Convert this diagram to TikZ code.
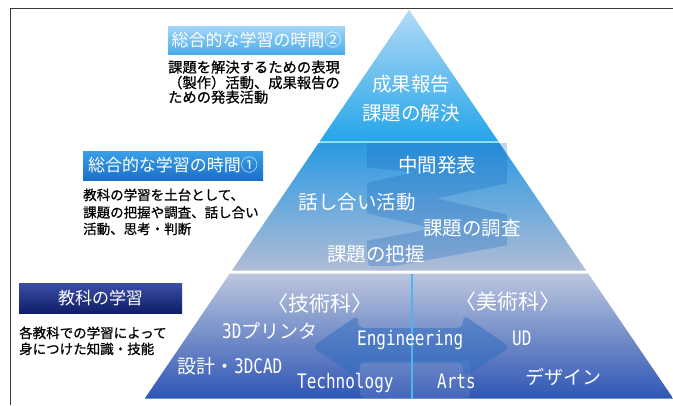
\documentclass[tikz,border=0pt]{standalone}
\usepackage{fontspec}
\newfontfamily\jp{Noto Sans CJK JP}
\newfontfamily\jpb[FakeBold=0.8]{Noto Sans CJK JP}
\newfontfamily\mono[FakeStretch=0.8]{DejaVu Sans Mono}
\definecolor{framecol}{HTML}{3A3A3A}
\definecolor{tierAtop}{HTML}{B2DAF7}
\definecolor{tierAbot}{HTML}{25A5E8}
\definecolor{tierBtop}{HTML}{2A9AE2}
\definecolor{tierBbot}{HTML}{B0BCD6}
\definecolor{tierCtop}{HTML}{BCC6DE}
\definecolor{tierCbot}{HTML}{2E56B4}
\definecolor{cyanline}{HTML}{8FDCF7}
\definecolor{ribboncol}{HTML}{1565C0}
\definecolor{arrowcol}{HTML}{2E6CC0}
\definecolor{dividercol}{HTML}{4DB5F0}
\definecolor{boxAtop}{HTML}{A3D6F7}
\definecolor{boxAbot}{HTML}{4AAEEA}
\definecolor{boxBtop}{HTML}{3AA0E8}
\definecolor{boxBbot}{HTML}{1B6FC9}
\definecolor{boxCtop}{HTML}{3B4FA8}
\definecolor{boxCbot}{HTML}{101E68}
\begin{document}
\begin{tikzpicture}[x=1pt,y=-1pt,
  bodytext/.style={font=\jpb\fontsize{13.5}{16}\selectfont, text=black, inner sep=0, anchor=base west},
  titlebox/.style={inner sep=0, text=white, font=\jp\fontsize{17}{18}\selectfont},
  pyrtext/.style={font=\jp\fontsize{19.5}{20}\selectfont, text=white, inner sep=0, anchor=base},
  subjtext/.style={font=\jp\fontsize{21}{22}\selectfont, text=white, inner sep=0, anchor=base},
  smalltext/.style={font=\jp\fontsize{19}{20}\selectfont, text=white, inner sep=0, anchor=base west},
  monotext/.style={font=\mono\fontsize{20}{20}\selectfont, text=white, inner sep=0, anchor=base west},
  ribbon/.style={draw=ribboncol, draw opacity=0.26, line width=30, line join=round},
  twoarrow/.style={fill=arrowcol, fill opacity=0.5, rounded corners=6},
  divider/.style={draw=dividercol, line width=2.5}
]
\useasboundingbox (0,0) rectangle (673,405);
\fill[white] (0,0) rectangle (673,405);
% frame
\draw[framecol, line width=1.6] (10.5,405) -- (10.5,8.5) -- (673,8.5);

% pyramid tiers
\shade[top color=tierAtop, bottom color=tierAbot] (409,10) -- (498.1,141) -- (319.9,141) -- cycle;
\shade[top color=tierBtop, bottom color=tierBbot] (318.6,143) -- (499.4,143) -- (586.1,270.5) -- (231.9,270.5) -- cycle;
\draw[cyanline, line width=2] (319.6,142) -- (498.8,142);
\shade[top color=tierCtop, bottom color=tierCbot] (229.8,273.5) -- (588.2,273.5) -- (673.2,398.5) -- (144.8,398.5) -- cycle;

% ribbon in middle tier
\begin{scope}
  \clip (367,143) rectangle (507,265);
  \draw[ribbon] (367,256) -- (507,230) -- (367,198) -- (507,168) -- (367,152) -- (507,148);
\end{scope}

% double arrow in bottom tier
\fill[white, fill opacity=0.10, rounded corners=4] (360,361) rectangle (470,398);
\path[twoarrow] (312,347) -- (358,315) -- (358,328) -- (463,328) -- (463,315) -- (510,347) -- (463,378) -- (463,363) -- (358,363) -- (358,378) -- cycle;
\coordinate (divtop) at (412,274);
\coordinate (divbot) at (412,398.5);
\draw[divider] (divtop) -- (divbot);

% pyramid texts
\node[pyrtext] (seika) at (411,91) {成果報告};
\node[pyrtext] (kaiketsu) at (411,120) {課題の解決};
\node[pyrtext] (chukan) at (437,172) {中間発表};
\node[pyrtext] (hanashi) at (357,209.5) {話し合い活動};
\node[pyrtext] (chosa) at (472,235) {課題の調査};
\node[pyrtext] (haaku) at (376,261.5) {課題の把握};

\node[subjtext] (gijutsu) at (320,311) {〈技術科〉};
\node[subjtext] (bijutsu) at (507.5,309) {〈美術科〉};
\node[smalltext] (printer) at (222,338) {{\mono\fontsize{20}{20}\selectfont 3D}プリンタ};
\node[smalltext] (sekkei) at (177,373) {設計・{\mono\fontsize{20}{20}\selectfont 3DCAD}};
\node[smalltext] (design) at (525,384) {デザイン};
\node[monotext] (eng) at (357,345) {Engineering};
\node[monotext] (ud) at (512,345) {UD};
\node[monotext] (tech) at (297,388) {Technology};
\node[monotext] (arts) at (437,388) {Arts};

% label boxes
\node[titlebox, top color=boxAtop, bottom color=boxAbot, minimum width=177, minimum height=28] (box2) at (256.5,40) {総合的な学習の時間②};
\node[titlebox, top color=boxBtop, bottom color=boxBbot, minimum width=180, minimum height=29] (box1) at (173,165.5) {総合的な学習の時間①};
\node[titlebox, top color=boxCtop, bottom color=boxCbot, minimum width=163, minimum height=30] (box0) at (100.5,298) {教科の学習};

% body texts
\node[bodytext, font=\jpb\fontsize{14.3}{16}\selectfont] (t2a) at (168,72.5) {課題を解決するための表現};
\node[bodytext, font=\jpb\fontsize{14.3}{16}\selectfont] (t2b) at (168,88) {（製作）活動、成果報告の};
\node[bodytext, font=\jpb\fontsize{14.3}{16}\selectfont] (t2c) at (168,102.5) {ための発表活動};

\node[bodytext] (t1a) at (83,200) {教科の学習を土台として、};
\node[bodytext] (t1b) at (83,217.5) {課題の把握や調査、話し合い};
\node[bodytext] (t1c) at (83,234) {活動、思考・判断};

\node[bodytext] (t0a) at (19,338) {各教科での学習によって};
\node[bodytext] (t0b) at (19,354) {身につけた知識・技能};
\end{tikzpicture}
\end{document}
